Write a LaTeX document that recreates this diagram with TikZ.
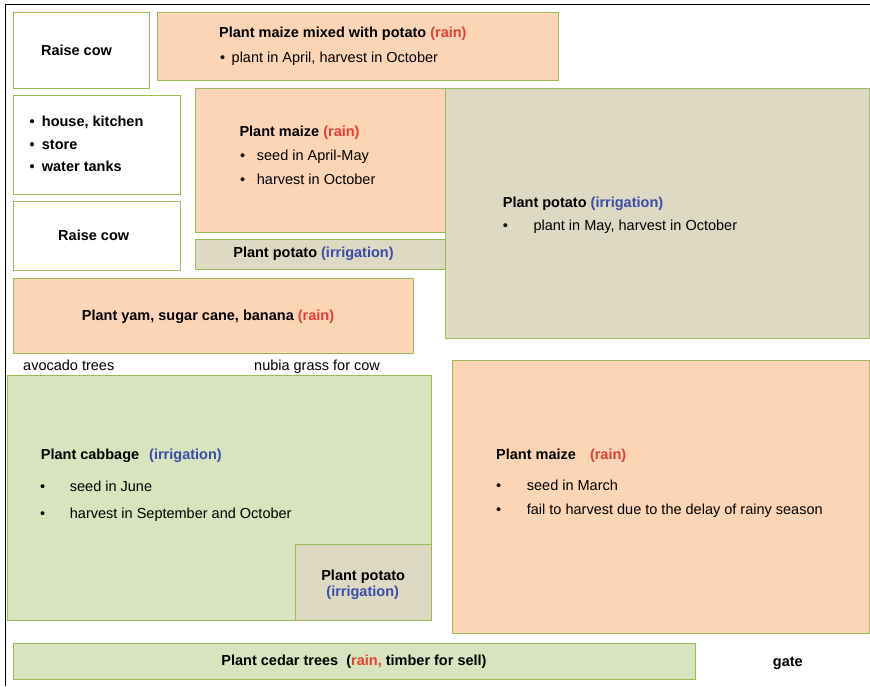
\documentclass[tikz,border=0pt]{standalone}
\usepackage{fontspec}
\setmainfont{Liberation Sans}
\usetikzlibrary{positioning}

\definecolor{plotline}{HTML}{9BBB59}
\definecolor{rainfill}{HTML}{FBD5B5}
\definecolor{grassfill}{HTML}{D7E4BD}
\definecolor{potatofill}{HTML}{DDD9C3}
\definecolor{rainred}{HTML}{E53E30}
\definecolor{irrblue}{HTML}{3A4DA8}

\newcommand{\rainnote}[1]{\textcolor{rainred}{#1}}
\newcommand{\irrnote}[1]{\textcolor{irrblue}{#1}}

\begin{document}
\begin{tikzpicture}[x=1pt, y=-1pt,
  font=\fontsize{14.5}{17}\selectfont,
  plot/.style={draw=plotline, line width=1pt},
  txt/.style={inner sep=0pt, anchor=base west},
  mid/.style={inner sep=0pt, anchor=base},
  head/.style={font=\fontsize{14.5}{17}\selectfont\bfseries}]
  \useasboundingbox (0,0) rectangle (870,686);

  % farm boundary
  \draw[line width=1.5pt] (5.5,686) -- (5.5,4.5) -- (870,4.5);

  % top row
  \draw[plot, fill=white] (13,12) rectangle (149,88);
  \node[mid, head] (cowtop) at (76.5,55) {Raise cow};

  \draw[plot, fill=rainfill] (157,12) rectangle (558,80);
  \node[txt, head] (mixtitle) at (219,37.5) {Plant maize mixed with potato \rainnote{(rain)}};
  \node[txt] (mixdot) at (220,62.5) {\textbullet};
  \node[txt] (mixline) at (231.5,62.5) {plant in April, harvest in October};

  % houses
  \draw[plot, fill=white] (13,95) rectangle (180,194);
  \node[txt, head] (housedotA) at (29.5,126.7) {\textbullet};
  \node[txt, head] (house) at (41.7,126.7) {house, kitchen};
  \node[txt, head] (housedotB) at (29.5,149.3) {\textbullet};
  \node[txt, head] (store) at (41.7,149.3) {store};
  \node[txt, head] (housedotC) at (29.5,171.7) {\textbullet};
  \node[txt, head] (tanks) at (41.7,171.7) {water tanks};

  % maize next to the houses
  \draw[plot, fill=rainfill] (195,88) rectangle (445,232);
  \node[txt, head] (maizetitle) at (239.3,136) {Plant maize \rainnote{(rain)}};
  \node[txt] (maizedotA) at (240,160.7) {\textbullet};
  \node[txt] (maizeseed) at (256.7,160.7) {seed in April-May};
  \node[txt] (maizedotB) at (240,184.3) {\textbullet};
  \node[txt] (maizeharvest) at (256.7,184.3) {harvest in October};

  \draw[plot, fill=white] (13,201) rectangle (180,270);
  \node[mid, head] (cowlow) at (93.7,240) {Raise cow};

  \draw[plot, fill=potatofill] (195,239) rectangle (445,269);
  \node[mid, head] (potatostrip) at (313.5,257.7) {Plant potato \irrnote{(irrigation)}};

  % big potato field
  \draw[plot, fill=potatofill] (445,88) rectangle (869,338);
  \node[txt, head] (potatotitle) at (502.7,207.3) {Plant potato \irrnote{(irrigation)}};
  \node[txt] (potatodot) at (502.7,230.7) {\textbullet};
  \node[txt] (potatoline) at (533.3,230.7) {plant in May, harvest in October};

  % yam row
  \draw[plot, fill=rainfill] (13,278) rectangle (413,353);
  \node[mid, head] (yam) at (208,320.5) {Plant yam, sugar cane, banana \rainnote{(rain)}};

  \node[txt] (avocado) at (23,370) {avocado trees};
  \node[txt] (nubia) at (254,370) {nubia grass for cow};

  % cabbage field
  \draw[plot, fill=grassfill] (7,375) rectangle (431,620);
  \node[txt, head] (cabbagetitle) at (40.7,459) {Plant cabbage\hspace{6pt} \irrnote{(irrigation)}};
  \node[txt] (cabbagedotA) at (40,491.7) {\textbullet};
  \node[txt] (cabbageseed) at (69.7,491.7) {seed in June};
  \node[txt] (cabbagedotB) at (40,518.3) {\textbullet};
  \node[txt] (cabbageharvest) at (69.7,518.3) {harvest in September and October};

  \draw[plot, fill=potatofill] (295,544) rectangle (431,620);
  \node[mid, head] (smallpotato) at (363.2,580.7) {Plant potato};
  \node[mid, head] (smallirr) at (362.7,596.7) {\irrnote{(irrigation)}};

  % big maize field
  \draw[plot, fill=rainfill] (452,360) rectangle (869,633);
  \node[txt, head] (bigmaizetitle) at (496,459.3) {Plant maize\hspace{10pt} \rainnote{(rain)}};
  \node[txt] (bigmaizedotA) at (496,490) {\textbullet};
  \node[txt] (bigmaizeseed) at (526.7,490) {seed in March};
  \node[txt] (bigmaizedotB) at (496,514) {\textbullet};
  \node[txt] (bigmaizefail) at (526.7,514) {fail to harvest due to the delay of rainy season};

  % cedar row and gate
  \draw[plot, fill=grassfill] (13,643) rectangle (695,679);
  \node[mid, head] (cedar) at (354,665) {Plant cedar trees\hspace{4pt} (\rainnote{rain,} timber for sell)};
  \node[mid, head] (gate) at (787.8,666.7) {gate};
\end{tikzpicture}
\end{document}
